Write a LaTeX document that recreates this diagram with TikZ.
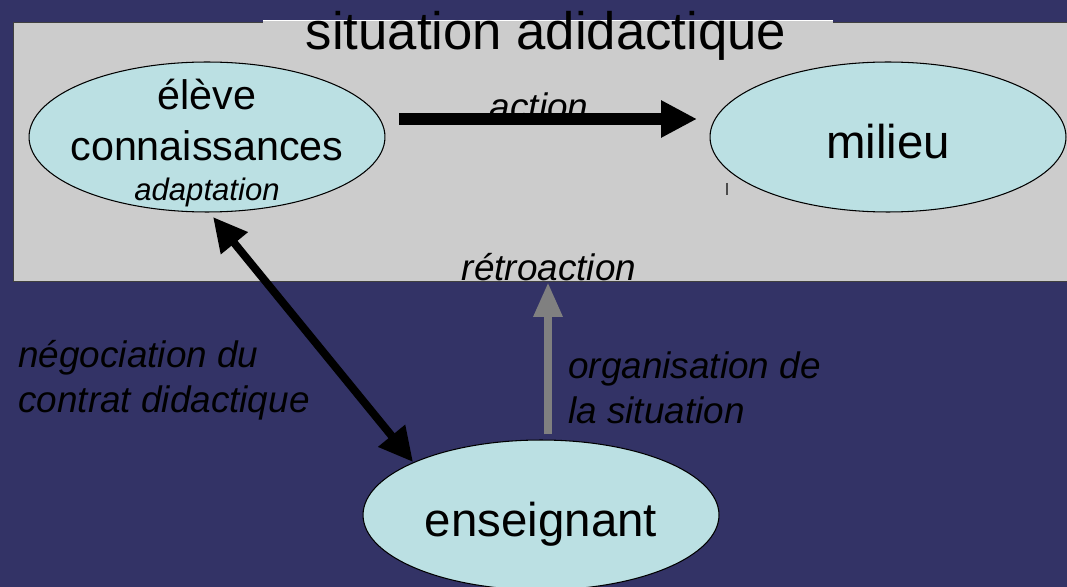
\documentclass[tikz,border=0pt]{standalone}
\usepackage{fontspec}
\setmainfont{Liberation Sans}
\usetikzlibrary{shapes.geometric,arrows.meta}
\definecolor{slidebg}{RGB}{51,51,102}
\definecolor{boxgray}{RGB}{204,204,204}
\definecolor{cellcyan}{RGB}{187,224,227}
\definecolor{retrogray}{RGB}{128,128,128}

\begin{document}
\begin{tikzpicture}[
  x=0.02cm, y=-0.02cm,
  cell/.style     = {draw=black, line width=0.6pt, ellipse, fill=cellcyan,
                     minimum width=7.12cm, minimum height=3.0cm, inner sep=0pt,
                     text height=24pt, text depth=0pt},
  situbox/.style  = {draw=black!75, line width=0.6pt, fill=boxgray, rectangle,
                     minimum width=21.24cm, minimum height=5.18cm, inner sep=0pt},
  big/.style      = {font=\fontsize{27}{32}\selectfont},
  mid/.style      = {font=\fontsize{23.5}{28}\selectfont, inner sep=0pt},
  lbl/.style      = {font=\fontsize{21}{25.5}\selectfont\itshape, align=left, inner sep=0pt},
  actarrow/.style = {line width=6.8pt, -{Triangle[length=20.4pt,width=19.8pt]}},
  negarrow/.style = {line width=4.5pt,
                     {Triangle[length=19.3pt,width=18.7pt]}-{Triangle[length=19.3pt,width=18.7pt]}},
  orgarrow/.style = {retrogray, line width=5.1pt, -{Triangle[length=19.8pt,width=15.3pt]}},
]

% --- slide background and adidactic frame -------------------------------
\useasboundingbox (0,0) rectangle (1067,587);
\clip (0,0) rectangle (1067,587);
\fill[slidebg] (0,0) rectangle (1067,587);
\node[situbox, anchor=north west] (situ) at (13,22) {};
\fill[boxgray] (263,20) rectangle (833,26);
\draw[white, line width=0.6pt] (263,20.5) -- (833,20.5);
\node[anchor=base, inner sep=0pt, font=\fontsize{30}{36}\selectfont] (titre) at (546,50) {situation adidactique};

% --- the three poles -----------------------------------------------------
\node[cell] (eleve) at (207,137) {};
\node[mid, anchor=base] (eleveA) at ([shift={(0,-27)}]eleve.center) {élève};
\node[mid, anchor=base] (eleveB) at ([shift={(0,24)}]eleve.center) {connaissances};
\node[anchor=base, inner sep=0pt, font=\fontsize{17.7}{21}\selectfont\itshape] (eleveC)
  at ([shift={(0,64)}]eleve.center) {adaptation};

\node[cell, big] (milieu) at (888,137) {milieu};
\node[cell, big] (ens) at (541,515) {enseignant};

% --- labels ---------------------------------------------------------------
\node[lbl, anchor=base] (action) at (539,120) {action};
\node[lbl, anchor=base] (retro) at (549,280) {rétroaction};
\node[lbl, anchor=base west] (nego) at (18,412) {négociation du\\contrat didactique};
\node[lbl, anchor=base west] (orga) at (568,423) {organisation de\\la situation};

% --- connectors -----------------------------------------------------------
\draw[actarrow] ([shift={(192,-18)}]eleve.center) -- ([shift={(-191,-18)}]milieu.center);
\draw[negarrow] ([shift={(6,80)}]eleve.center) -- ([shift={(-128,-53)}]ens.center);
\coordinate (orgfoot) at ([shift={(7,-5)}]ens.north);
\draw[orgarrow] (orgfoot) -- (orgfoot |- situ.south);

\draw[black!70, line width=0.6pt] (727,183) -- (727,195);

\end{tikzpicture}
\end{document}
